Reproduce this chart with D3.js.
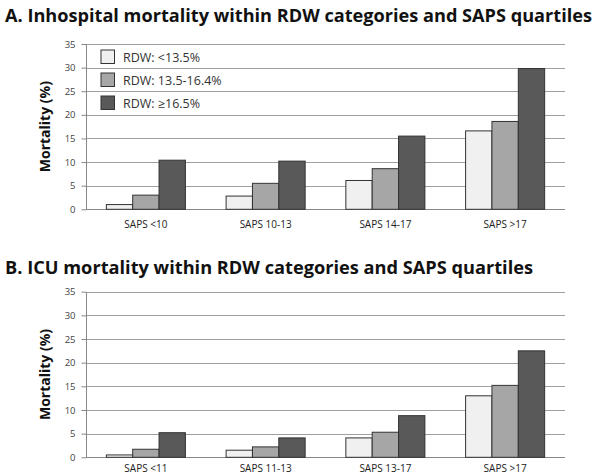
<!DOCTYPE html>
<html><head><meta charset="utf-8">
<script src="https://cdn.jsdelivr.net/npm/d3@7"></script>
<style>body{margin:0;background:#fff}svg{display:block}</style>
</head><body>
<svg id="c" width="600" height="476"></svg>
<script>
const seriesNames = ["RDW: <13.5%", "RDW: 13.5-16.4%", "RDW: \u226516.5%"];
const seriesColors = ["#f0f0f0", "#a6a6a6", "#595959"];
const yTicks = [0, 5, 10, 15, 20, 25, 30, 35];

const titleA = "A. Inhospital mortality within RDW categories and SAPS quartiles";
const categoriesA = ["SAPS <10", "SAPS 10-13", "SAPS 14-17", "SAPS >17"];
const lowA  = [1.0, 2.8, 6.1, 16.6];
const midA  = [3.0, 5.5, 8.6, 18.6];
const highA = [10.4, 10.2, 15.5, 29.8];

const titleB = "B. ICU mortality within RDW categories and SAPS quartiles";
const categoriesB = ["SAPS <11", "SAPS 11-13", "SAPS 13-17", "SAPS >17"];
const lowB  = [0.5, 1.5, 4.1, 13.0];
const midB  = [1.7, 2.2, 5.3, 15.2];
const highB = [5.2, 4.1, 8.8, 22.5];

const svg = d3.select("#c");

function panel(opt) {
  const g = svg.append("g");
  g.append("text").attr("x", 5).attr("y", opt.titleY)
    .attr("font-family", "Open Sans, Liberation Sans, sans-serif")
    .attr("font-weight", "bold").attr("font-size", 18).attr("fill", "#111")
    .attr("textLength", opt.titleW).attr("lengthAdjust", "spacingAndGlyphs")
    .text(opt.title);

  const y = d3.scaleLinear().domain([0, 35]).range([opt.y0, opt.y1]);
  const x0 = d3.scaleBand().domain(opt.cats).range([86, 565]).paddingInner(0.34).paddingOuter(0.17);
  const x1 = d3.scaleBand().domain([0, 1, 2]).range([0, x0.bandwidth()]);

  g.append("g").selectAll("line").data(yTicks).join("line")
    .attr("x1", 86).attr("x2", 565)
    .attr("y1", d => Math.round(y(d)) + 0.5).attr("y2", d => Math.round(y(d)) + 0.5)
    .attr("stroke", d => d === 0 ? "#888" : "#a0a0a0").attr("stroke-width", 1);
  g.append("line").attr("x1", 86.5).attr("x2", 86.5)
    .attr("y1", Math.round(y(35))).attr("y2", Math.round(y(0)) + 1).attr("stroke", "#888");

  const ax = d3.axisLeft(y).tickValues(yTicks).tickSize(5).tickPadding(6);
  const axg = g.append("g").attr("transform", "translate(86.5,0)").call(ax);
  axg.select(".domain").remove();
  axg.selectAll(".tick line").attr("stroke", "#888");
  axg.selectAll(".tick text").attr("font-family", "Open Sans, sans-serif")
    .attr("font-size", 9.5).attr("fill", "#444");

  g.append("g").selectAll("text").data(opt.cats).join("text")
    .attr("x", d => x0(d) + x0.bandwidth() / 2).attr("y", opt.y0 + opt.labOff)
    .attr("text-anchor", "middle").attr("font-family", "Open Sans, sans-serif")
    .attr("font-size", 10).attr("fill", "#222").text(d => d);

  g.append("text").attr("transform", `translate(50,${(opt.y0 + opt.y1) / 2}) rotate(-90)`)
    .attr("text-anchor", "middle").attr("font-family", "Open Sans, Liberation Sans, sans-serif")
    .attr("font-weight", "bold").attr("font-size", 14).attr("fill", "#111")
    .text("Mortality (%)");

  const series = [opt.low, opt.mid, opt.high];
  const groups = g.append("g").selectAll("g").data(opt.cats).join("g")
    .attr("transform", d => `translate(${x0(d)},0)`);
  groups.selectAll("rect").data((d, i) => series.map((s, k) => ({k, v: s[i]}))).join("rect")
    .attr("x", d => x1(d.k)).attr("width", x1.bandwidth())
    .attr("y", d => y(d.v)).attr("height", d => y(0) - y(d.v))
    .attr("fill", d => seriesColors[d.k]).attr("stroke", "#333").attr("stroke-width", 1);

  if (opt.legend) {
    const lg = g.append("g");
    const rows = lg.selectAll("g").data(seriesNames).join("g")
      .attr("transform", (d, i) => `translate(101,${50 + i * 23})`);
    rows.append("rect").attr("width", 13.5).attr("height", 13.5)
      .attr("fill", (d, i) => seriesColors[i]).attr("stroke", "#333");
    rows.append("text").attr("x", 22).attr("y", 11.5)
      .attr("font-family", "Open Sans, sans-serif").attr("font-size", 12.5).attr("fill", "#333")
      .text(d => d);
  }
}

panel({title: titleA, titleY: 22, titleW: 587, y0: 209.3, y1: 44, labOff: 19, cats: categoriesA, low: lowA, mid: midA, high: highA, legend: true});
panel({title: titleB, titleY: 274, titleW: 528, y0: 457.3, y1: 291.7, labOff: 14.5, cats: categoriesB, low: lowB, mid: midB, high: highB, legend: false});
</script>
</body></html>
